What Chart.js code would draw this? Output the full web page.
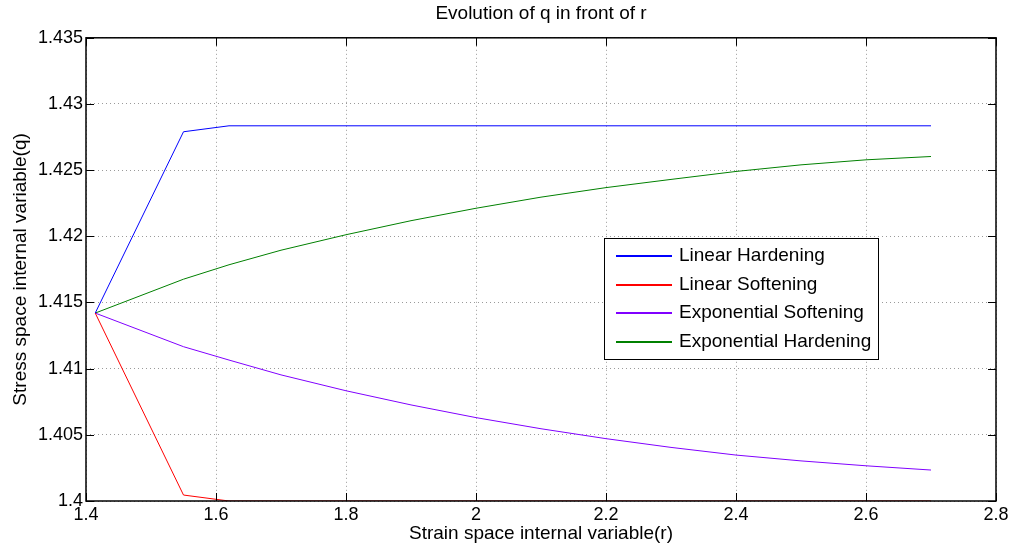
<!DOCTYPE html>
<html>
<head>
<meta charset="utf-8">
<script src="https://cdn.jsdelivr.net/npm/chart.js@4"></script>
<style>
  html, body { margin: 0; padding: 0; background: #fff; }
  #wrap { width: 1013px; height: 549px; }
</style>
</head>
<body>
<div id="wrap"><canvas id="c"></canvas></div>
<script>
// strain space internal variable r
const rValues = [1.4142, 1.55, 1.62, 1.7, 1.8, 1.9, 2.0, 2.1, 2.2, 2.3, 2.4, 2.5, 2.6, 2.7];
const linHard = [1.4142, 1.4279, 1.42835, 1.42835, 1.42835, 1.42835, 1.42835, 1.42835, 1.42835, 1.42835, 1.42835, 1.42835, 1.42835, 1.42835];
const linSoft = [1.4142, 1.40045, 1.4, 1.4, 1.4, 1.4, 1.4, 1.4, 1.4, 1.4, 1.4, 1.4, 1.4, 1.4];
const expSoft = [1.4142, 1.41166, 1.41065, 1.40953, 1.40833, 1.40726, 1.4063, 1.40546, 1.40471, 1.40405, 1.40347, 1.40303, 1.40266, 1.40234];
const expHard = [1.4142, 1.41676, 1.41785, 1.41895, 1.42012, 1.42118, 1.42212, 1.42296, 1.42368, 1.4243, 1.4249, 1.4254, 1.42578, 1.42603];

const seriesNames = ['Linear Hardening', 'Linear Softening', 'Exponential Softening', 'Exponential Hardening'];
const seriesColors = ['#0000ff', '#ff0000', '#8000ff', '#008000'];

const xTicks = [1.4, 1.6, 1.8, 2.0, 2.2, 2.4, 2.6, 2.8];
const yTicks = [1.4, 1.405, 1.41, 1.415, 1.42, 1.425, 1.43, 1.435];

const FONT = '"Liberation Sans", Arial, Helvetica, sans-serif';

function pts(ys) {
  return rValues.map((r, i) => ({ x: r, y: ys[i] }));
}

// box, inward ticks and a legend inside the plot (matlab look)
const matlabBox = {
  id: 'matlabBox',
  afterDraw(chart) {
    const ctx = chart.ctx;
    const a = chart.chartArea;
    const xs = chart.scales.x, ys = chart.scales.y;
    ctx.save();
    ctx.setLineDash([]);
    ctx.strokeStyle = '#000';
    ctx.lineWidth = 1;
    ctx.beginPath();
    xTicks.forEach(v => {
      const px = Math.round(xs.getPixelForValue(v)) + 0.5;
      ctx.moveTo(px, a.bottom); ctx.lineTo(px, a.bottom - 8);
      ctx.moveTo(px, a.top); ctx.lineTo(px, a.top + 8);
    });
    yTicks.forEach(v => {
      const py = Math.round(ys.getPixelForValue(v)) + 0.5;
      ctx.moveTo(a.left, py); ctx.lineTo(a.left + 8, py);
      ctx.moveTo(a.right, py); ctx.lineTo(a.right - 8, py);
    });
    ctx.stroke();
    ctx.lineWidth = 1.5;
    ctx.strokeRect(a.left, a.top, a.right - a.left, a.bottom - a.top);

    // legend
    const lx = 604, ly = 238, lw = 274, lh = 121;
    ctx.fillStyle = '#fff';
    ctx.fillRect(lx, ly, lw, lh);
    ctx.lineWidth = 1;
    ctx.strokeStyle = '#000';
    ctx.strokeRect(lx + 0.5, ly + 0.5, lw, lh);
    ctx.font = '19px ' + FONT;
    ctx.textBaseline = 'middle';
    seriesNames.forEach((name, i) => {
      const y = Math.round(ly + 18 + i * 28.5);
      ctx.strokeStyle = seriesColors[i];
      ctx.lineWidth = 2;
      ctx.beginPath();
      ctx.moveTo(lx + 12, y);
      ctx.lineTo(lx + 68, y);
      ctx.stroke();
      ctx.fillStyle = '#000';
      ctx.fillText(name, lx + 75, y);
    });
    ctx.restore();
  }
};

new Chart(document.getElementById('c'), {
  type: 'line',
  data: {
    datasets: seriesNames.map((name, i) => ({
      label: name,
      data: pts([linHard, linSoft, expSoft, expHard][i]),
      borderColor: seriesColors[i],
      backgroundColor: seriesColors[i],
      borderWidth: 1,
      pointRadius: 0,
      tension: 0,
      fill: false
    }))
  },
  options: {
    responsive: true,
    maintainAspectRatio: false,
    animation: false,
    layout: { padding: { left: 6, right: 17, top: 0, bottom: 0 } },
    plugins: {
      legend: { display: false },
      tooltip: { enabled: false },
      title: {
        display: true,
        text: 'Evolution of q in front of r',
        fullSize: false,
        color: '#000',
        font: { family: FONT, size: 19, weight: 'normal', lineHeight: 1.2 },
        padding: { top: 2, bottom: 13 }
      }
    },
    scales: {
      x: {
        type: 'linear',
        min: 1.4,
        max: 2.8,
        afterBuildTicks(s) { s.ticks = xTicks.map(v => ({ value: v })); },
        afterFit(s) { s.height = 48; },
        border: { display: false, dash: [1, 3] },
        grid: { color: '#9a9a9a', drawTicks: false },
        ticks: {
          color: '#000',
          padding: 3,
          maxRotation: 0,
          autoSkip: false,
          font: { family: FONT, size: 18 },
          callback: v => String(Number(v.toFixed(3)))
        },
        title: {
          display: true,
          text: 'Strain space internal variable(r)',
          color: '#000',
          font: { family: FONT, size: 19 },
          padding: { top: 0, bottom: 4 }
        }
      },
      y: {
        type: 'linear',
        min: 1.4,
        max: 1.435,
        afterBuildTicks(s) { s.ticks = yTicks.map(v => ({ value: v })); },
        afterFit(s) { s.width = 80; },
        border: { display: false, dash: [1, 3] },
        grid: { color: '#9a9a9a', drawTicks: false },
        ticks: {
          color: '#000',
          padding: 3,
          autoSkip: false,
          font: { family: FONT, size: 18 },
          callback: v => String(Number(v.toFixed(3)))
        },
        title: {
          display: true,
          text: 'Stress space internal variable(q)',
          color: '#000',
          font: { family: FONT, size: 19 },
          padding: { top: 3, bottom: 0 }
        }
      }
    }
  },
  plugins: [matlabBox]
});
</script>
</body>
</html>
